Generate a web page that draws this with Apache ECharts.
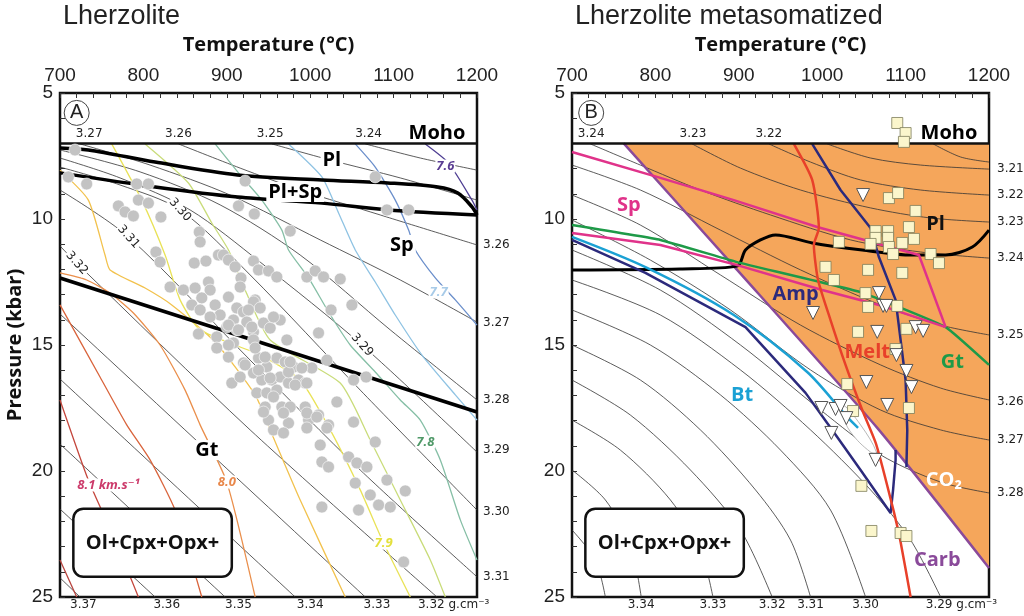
<!DOCTYPE html>
<html>
<head>
<meta charset="utf-8">
<script src="https://cdn.jsdelivr.net/npm/echarts@6/dist/echarts.min.js"></script>
<style>
html, body { margin:0; padding:0; background:#fff; }
#chart { width:1024px; height:616px; }
</style>
</head>
<body>
<div id="chart"></div>
<script>
// ===== panel A : Lherzolite =====
const mohoLine = [[700, 7.0], [1200, 7.0]];

const plOutA = [[700,7.18],[734,7.26],[814,7.74],[913,8.25],[1014,8.45],[1093,8.57],[1153,8.73],[1177,8.97],[1194,9.52],[1200,9.84]];
const spInA  = [[700,8.17],[814,8.73],[913,9.13],[1014,9.37],[1093,9.64],[1200,9.84]];
const gtInA  = [[700,12.34],[1200,17.66]];

// density isolines (g/cm3)
const densA324 = [[1066,7.02],[1132,7.58],[1200,8.06]];
const densA325 = [[954,7.02],[1024,7.66],[1108,8.37],[1200,9.25]];
const densA326 = [[842,7.02],[916,7.98],[988,8.85],[1084,9.84],[1200,11.03]];
const densA327 = [[724,7.02],[808,7.86],[904,9.05],[1012,10.83],[1108,12.42],[1200,14.09]];
const densA328 = [[700,7.26],[796,8.13],[892,9.44],[988,11.43],[1096,14.40],[1200,17.18]];
const densA329 = [[700,7.58],[772,8.37],[856,9.64],[940,11.71],[1062,15.0],[1200,19.25]];
const densA330 = [[700,7.94],[772,8.65],[844,9.64],[928,12.22],[1060,16.79],[1200,21.55]];
const densA331 = [[700,8.85],[782,10.71],[928,15.6],[1060,19.96],[1200,24.2]];
const densA332 = [[700,11.07],[720,11.75],[928,18.37],[1152,25]];
const densA333 = [[700,13.77],[1066,25]];
const densA334 = [[700,16.35],[982,25]];
const densA335 = [[700,18.93],[898,25]];
const densA336 = [[700,21.51],[814,25]];
const densA337 = [[700,24.24],[724,25]];

// Vp isolines (km/s)
const velA0  = [[700,23.53],[720,25]];
const velA1  = [[700,17.18],[734,20.36],[766,22.74],[794,25]];
const velA2  = [[700,13.41],[748,16.27],[780,18.17],[808,19.56],[838,21.55],[870,25]];
const velA3  = [[700,12.14],[732,12.42],[760,12.94],[788,13.73],[820,15.0],[850,16.79],[868,18.17],[900,20.44],[934,25]];
const velA4  = [[700,8.06],[734,9.25],[754,11.43],[760,12.02],[802,12.74],[834,13.41],[886,14.88],[934,16.98],[952,18.37],[988,21.15],[1042,25]];
const velA5  = [[762,7.02],[798,9.25],[826,11.43],[844,13.21],[868,14.40],[940,15.40],[988,16.39],[1024,18.37],[1060,20.75],[1088,22.86],[1120,25]];
const velA6  = [[802,7.02],[854,8.57],[882,10.16],[902,11.23],[922,12.82],[952,14.80],[1036,16.51],[1072,18.77],[1108,21.15],[1144,23.53],[1162,25]];
const velA7  = [[886,7.02],[918,8.33],[942,9.25],[966,10.44],[974,11.23],[998,12.34],[1022,13.69],[1048,15.0],[1078,16.07],[1108,17.18],[1132,17.98],[1156,19.56],[1180,21.94],[1200,23.53]];
const velA8  = [[974,7.02],[1014,8.33],[1034,9.76],[1054,11.23],[1078,12.5],[1102,13.81],[1134,15.40],[1174,16.98],[1200,17.98]];
const velA9  = [[1054,7.02],[1078,7.94],[1102,9.25],[1118,10.44],[1126,11.23],[1150,12.34],[1174,13.21],[1200,14.21]];
const velA10 = [[1138,7.02],[1166,7.78],[1194,9.25],[1200,9.64]];
const velColorsA = ['#b8433d','#c4463c','#d9643c','#ea8f4c','#f2c24e','#e9e257','#c9dc7a','#86bfa6','#8fc3e3','#6b8fcb','#4f3f93'];

const pointsA = [
 [718,7.26],[710,8.33],[732,8.61],[792,8.61],[806,8.61],[922,8.49],[1078,8.33],[1092,9.64],[1118,9.64],
 [770,9.48],[778,9.72],[788,9.88],[794,9.25],[806,9.37],[821,9.92],[914,9.48],[933,9.80],[976,10.48],
 [867,10.52],[868,10.91],[815,11.31],[820,11.71],[861,11.75],[875,11.67],[890,11.43],[896,11.43],[902,11.63],
 [910,11.90],[932,11.67],[938,12.02],[950,12.06],[960,12.30],[996,12.30],[1006,12.06],[1016,12.30],[1036,12.38],
 [832,12.70],[848,12.82],[862,12.74],[878,12.50],[880,12.82],[917,12.34],[916,12.70],[902,13.10],[870,13.13],
 [934,13.21],[858,13.41],[868,13.61],[886,13.41],[892,13.81],[912,13.53],[920,13.69],[932,13.29],[940,13.53],
 [926,13.61],[1025,13.61],[1050,13.41],[866,14.56],[880,13.89],[888,14.68],[900,14.29],[908,14.01],[912,14.40],
 [924,14.09],[932,14.48],[944,14.13],[952,14.33],[964,14.01],[956,13.89],[972,14.80],[932,14.80],[908,14.92],
 [888,15.12],[902,15.48],[920,15.71],[938,15.52],[948,15.87],[960,15.52],[970,15.67],[980,15.87],[1002,15.91],
 [1010,14.52],[1020,15.60],[1052,16.39],[1067,16.27],[906,16.51],[916,16.27],[932,16.11],[942,16.39],[954,16.39],
 [964,16.27],[974,16.51],[986,16.39],[994,16.51],[936,16.90],[948,16.90],[960,16.79],[922,15.79],[938,15.99],
 [952,16.31],[974,16.07],[902,14.21],[914,14.40],[930,14.29],[902,15.00],[934,15.12],[946,15.48],[976,15.67],
 [990,15.91],[982,16.59],[996,16.51],[946,17.46],[966,17.46],[976,17.46],[994,17.46],[1010,17.78],[1032,17.26],
 [1052,18.06],[950,17.98],[974,18.10],[998,17.98],[1022,18.17],[956,17.06],[996,17.70],[944,17.66],[968,17.70],
 [1008,17.86],[956,18.37],[968,18.49],[996,18.29],[1012,18.97],[1020,18.29],[1078,18.85],[1014,19.64],[1022,19.84],
 [1046,19.44],[1056,19.68],[1068,19.84],[1054,20.48],[1092,20.36],[1072,20.95],[1082,21.35],[1096,21.43],
 [1114,20.79],[1014,21.43],[1058,21.55],[1112,23.61]
];

const phaseLabelsA = [[1026,7.66,'Pl'],[982,8.93,'Pl+Sp'],[1110,11.03,'Sp'],[876,19.17,'Gt']];
const velLabelsA = [[1162,7.9,'7.6','#5a3d92'],[1154,12.9,'7.7','#a8cbe8'],[1138,18.85,'7.8','#4f9968'],
                    [1088,22.86,'7.9','#e4e03c'],[900,20.44,'8.0','#e8874a'],[758,20.56,'8.1 km.s⁻¹','#cc3a6a']];
const topDensLabelsA = [[735,6.63,'3.27'],[842,6.63,'3.26'],[952,6.63,'3.25'],[1070,6.63,'3.24']];
const rightDensLabelsA = [[1200,11.03,'3.26'],[1200,14.13,'3.27'],[1200,17.18,'3.28'],[1200,19.17,'3.29'],[1200,21.63,'3.30'],[1200,24.2,'3.31']];
const bottomDensLabelsA = [[728,25,'3.37'],[828,25,'3.36'],[914,25,'3.35'],[1000,25,'3.34'],[1080,25,'3.33'],[1172,25,'3.32 g.cm⁻³']];
const inlineDensLabelsA = [[1062,15.0,'3.29'],[844,9.64,'3.30'],[782,10.71,'3.31'],[720,11.75,'3.32']];

// ===== panel B : Lherzolite metasomatized =====
const co2FieldB = [[762,7.0],[1200,7.0],[1200,23.85],[1066,18.29],[894,11.87]];
const carbB   = [[762,7.0],[894,11.87],[1066,18.29],[1200,23.85]];
const plOutB  = [[700,12.02],[830,11.98],[898,11.87],[908,11.23],[926,10.83],[944,10.63],[988,10.95],[1048,11.23],[1108,11.43],[1148,11.43],[1180,11.11],[1200,10.44]];
const spUpperB = [[700,7.34],[806,8.37],[894,9.25],[994,10.32],[1116,11.43],[1148,14.29]];
const spLowerB = [[700,10.56],[806,11.03],[898,11.83],[1000,12.82],[1068,13.41],[1148,14.29]];
const gtB     = [[700,10.24],[806,10.83],[898,11.71],[1046,12.90],[1148,14.29],[1200,15.79]];
const btB     = [[700,10.71],[790,11.94],[894,13.81],[982,16.07],[1028,17.78],[1043,18.29]];
const ampTopB = [[988,7.02],[1022,8.85],[1058,10.36],[1068,11.51],[1088,13.21],[1094,14.80],[1100,16.39],[1102,18.37],[1101,19.84]];
const ampLeftB = [[700,10.83],[788,12.14],[908,14.29],[980,16.90],[1012,18.37],[1046,19.96],[1082,21.67],[1085,20.75],[1088,19.56],[1088,19.17]];
const meltB   = [[966,7.02],[988,8.45],[996,10.36],[990,11.03],[995,12.42],[1010,14.01],[1028,15.79],[1048,17.58],[1065,18.97],[1086,21.63],[1094,22.82],[1106,25]];
const lensB   = [[1025,17.38],[1046,18.17],[1065,19.25],[1058,19.25],[1034,18.45],[1025,17.78]];

const densB320 = [[1133,7.02],[1166,7.54],[1200,7.74]];
const densB321 = [[1006,7.02],[1058,7.58],[1118,7.86],[1200,8.02]];
const densB322 = [[936,7.02],[986,7.74],[1046,8.45],[1118,8.85],[1200,9.05]];
const densB323 = [[844,7.02],[902,7.98],[974,8.85],[1058,9.56],[1130,9.96],[1200,10.12]];
const densB324 = [[722,7.02],[782,7.86],[854,8.85],[938,9.84],[1034,10.83],[1118,11.31],[1200,11.55]];
const densB325 = [[700,7.86],[782,8.85],[878,10.44],[974,12.02],[1070,13.41],[1142,14.21],[1200,14.60]];
const densB326 = [[700,9.05],[782,10.24],[878,12.22],[974,14.21],[1070,15.79],[1142,16.71],[1200,17.18]];
const densB327 = [[700,10.04],[794,11.63],[890,13.61],[986,15.99],[1070,17.58],[1142,18.37],[1200,18.77]];
const densB328 = [[700,11.23],[806,12.82],[902,15.0],[998,17.58],[1070,19.36],[1142,20.44],[1200,20.87]];
const densB329 = [[700,12.42],[806,13.81],[902,15.99],[986,18.37],[1058,20.75],[1106,22.74],[1142,25]];
const densB330 = [[700,13.61],[794,15.0],[878,16.98],[950,19.17],[1010,21.55],[1052,25]];
const densB331 = [[700,15.0],[782,16.39],[854,18.37],[920,20.75],[962,22.74],[986,25]];
const densB332 = [[700,16.39],[770,17.78],[842,19.96],[902,22.34],[940,25]];
const densB333 = [[700,17.98],[758,19.17],[818,21.15],[854,23.13],[869,25]];
const densB334 = [[700,19.96],[740,21.15],[770,22.94],[783,25]];
const densB335 = [[700,22.34],[728,23.53],[740,25]];

const squaresB = [
 [1090,6.19],[1100,6.59],[1098,6.94],[1080,9.17],[1091,8.97],[1112,9.68],[1104,10.32],[1064,10.48],[1079,10.48],
 [1064,10.75],[1079,10.75],[1020,10.91],[1058,10.99],[1080,11.11],[1096,10.95],[1110,10.79],[1085,11.39],[1130,11.39],
 [1140,11.75],[1004,11.90],[1014,12.42],[1055,12.02],[1096,12.14],[1052,12.94],[1055,13.49],[1090,13.45],[1043,14.48],
 [1101,14.36],[1088,15.16],[1030,16.55],[1037,17.62],[1104,17.50],[1047,20.59],[1059,22.38],[1094,22.46],[1101,22.58]
];
const trianglesB = [
 [1049,9.05],[1068,12.94],[1073,13.45],[1077,13.45],[989,13.73],[1066,14.48],[1112,14.29],[1121,14.44],[1089,15.40],
 [1101,16.03],[1053,16.47],[1107,16.67],[1078,17.38],[999,17.50],[1016,17.54],[1022,17.42],[1029,17.90],[1011,18.49],[1064,19.56]
];

const phaseLabelsB = [[768,9.44,'Sp','#e0338a'],[1136,10.2,'Pl','#111'],[968,13.0,'Amp','#2c2a7c'],[1054,15.28,'Melt','#e8402a'],
                      [1156,15.67,'Gt','#1e9a48'],[904,16.98,'Bt','#1ba1d4'],[1146,20.36,'CO₂','#ffffff'],[1138,23.53,'Carb','#8a4a9a']];
const topDensLabelsB = [[723,6.63,'3.24'],[845,6.63,'3.23'],[936,6.63,'3.22']];
const rightDensLabelsB = [[1200,8.02,'3.21'],[1200,9.05,'3.22'],[1200,10.12,'3.23'],[1200,11.55,'3.24'],[1200,14.60,'3.25'],[1200,17.26,'3.26'],[1200,18.77,'3.27'],[1200,20.87,'3.28']];
const bottomDensLabelsB = [[783,25,'3.34'],[869,25,'3.33'],[940,25,'3.32'],[986,25,'3.31'],[1052,25,'3.30'],[1167,25,'3.29 g.cm⁻³']];

const mohoLabel = [[1152,6.59,'Moho']];
const boxCorners = [[716,21.5],[906,24.2]];
const boxText = 'Ol+Cpx+Opx+';

const chart = echarts.init(document.getElementById('chart'));

const BOLD = '"Open Sans", "DejaVu Sans", sans-serif';
const SMALL = '"DejaVu Sans", sans-serif';

function line(gi, data, color, width, z, smooth) {
	return {
		type: 'line', xAxisIndex: gi, yAxisIndex: gi, data: data, symbol: 'none', silent: true,
		smooth: smooth === undefined ? 0.3 : smooth,
		lineStyle: { color: color, width: width }, z: z
	};
}

function texts(gi, items, label, z) {
	return {
		type: 'scatter', xAxisIndex: gi, yAxisIndex: gi, symbolSize: 0, silent: true, clip: false, z: z || 20,
		itemStyle: { color: 'transparent', opacity: 1 },
		data: items.map((d) => ({ name: d[2], value: [d[0], d[1]], label: d[3] ? { color: d[3] } : undefined })),
		label: Object.assign({ show: true, position: 'inside', formatter: '{b}', opacity: 1 }, label)
	};
}

function badge(gi, pos, letter) {
	return {
		type: 'scatter', xAxisIndex: gi, yAxisIndex: gi, symbol: 'circle', symbolSize: 25, silent: true, clip: false, z: 20,
		itemStyle: { color: '#fff', borderColor: '#444', borderWidth: 1, opacity: 1 },
		data: [{ name: letter, value: pos }],
		label: { show: true, position: 'inside', formatter: '{b}', fontSize: 20, color: '#222', fontFamily: 'Liberation Sans' }
	};
}

function axesX(gi) {
	return {
		gridIndex: gi, type: 'value', position: 'top', min: 700, max: 1200, interval: 100,
		name: 'Temperature (°C)', nameLocation: 'middle', nameGap: 38,
		nameTextStyle: { fontFamily: BOLD, fontWeight: 'bold', fontSize: 20, color: '#111' },
		axisLine: { show: false },
		axisTick: { inside: true, length: 5, lineStyle: { color: '#333' } },
		minorTick: { show: true, splitNumber: 5, length: 5, lineStyle: { color: '#333' } },
		splitLine: { show: false },
		axisLabel: { fontFamily: 'Liberation Sans', fontSize: 19, color: '#222', margin: 8, formatter: (v) => String(v) }
	};
}

function axesY(gi) {
	return {
		gridIndex: gi, type: 'value', inverse: true, min: 5, max: 25, interval: 5,
		name: gi === 0 ? 'Pressure (kbar)' : '', nameLocation: 'middle', nameGap: 35,
		nameTextStyle: { fontFamily: BOLD, fontWeight: 'bold', fontSize: 20, color: '#111' },
		axisLine: { show: false },
		axisTick: { inside: true, length: 5, lineStyle: { color: '#333' } },
		minorTick: { show: true, splitNumber: 5, length: 5, lineStyle: { color: '#333' } },
		splitLine: { show: false },
		axisLabel: { fontFamily: 'Liberation Sans', fontSize: 19, color: '#222', margin: 7, formatter: (v) => String(v) }
	};
}

const series = [];

// ---- panel A ----
[densA324, densA325, densA326, densA327, densA328, densA329, densA330, densA331, densA332, densA333, densA334, densA335, densA336, densA337]
	.forEach((d) => series.push(line(0, d, '#333', 0.8, 2)));
[velA0, velA1, velA2, velA3, velA4, velA5, velA6, velA7, velA8, velA9, velA10]
	.forEach((d, i) => series.push(line(0, d, velColorsA[i], 1.3, 3, 0.2)));
series.push(line(0, plOutA, '#000', 3.5, 4, 0.3));
series.push(line(0, spInA, '#000', 3.5, 4, 0.3));
series.push(line(0, gtInA, '#000', 3.5, 4, 0));
series.push(line(0, mohoLine, '#111', 2.5, 4, 0));
series.push({
	type: 'scatter', xAxisIndex: 0, yAxisIndex: 0, symbolSize: 12, silent: true, z: 6, data: pointsA,
	itemStyle: { color: '#c3c3c3', borderColor: '#fff', borderWidth: 0.6, opacity: 1 }
});
series.push(texts(0, phaseLabelsA, { fontFamily: BOLD, fontWeight: 'bold', fontSize: 20, color: '#000', backgroundColor: '#fff', padding: [0, 2] }));
series.push(texts(0, mohoLabel, { fontFamily: BOLD, fontWeight: 'bold', fontSize: 20, color: '#000' }));
series.push(texts(0, velLabelsA, { fontFamily: BOLD, fontWeight: 'bold', fontStyle: 'italic', fontSize: 13, backgroundColor: '#fff', padding: [0, 1] }));
series.push(texts(0, topDensLabelsA, { fontFamily: SMALL, fontSize: 12, color: '#222' }));
series.push(texts(0, rightDensLabelsA, { fontFamily: SMALL, fontSize: 12, color: '#222', position: 'right', distance: 6 }));
series.push(texts(0, bottomDensLabelsA, { fontFamily: SMALL, fontSize: 12, color: '#222', position: 'bottom', distance: 2 }));
series.push(texts(0, inlineDensLabelsA, { fontFamily: SMALL, fontSize: 12, color: '#222', rotate: -48, backgroundColor: '#fff', padding: [0, 1] }));
series.push(badge(0, [720, 5.79], 'A'));

// ---- panel B ----
series.push({
	type: 'custom', xAxisIndex: 1, yAxisIndex: 1, silent: true, z: 1, data: co2FieldB,
	renderItem: function (params, api) {
		if (params.dataIndex !== 0) return;
		return { type: 'polygon', shape: { points: co2FieldB.map((p) => api.coord(p)) }, style: { fill: '#f5a65b' } };
	}
});
[densB320, densB321, densB322, densB323, densB324, densB325, densB326, densB327, densB328, densB329, densB330, densB331, densB332, densB333, densB334, densB335]
	.forEach((d) => series.push(line(1, d, '#333', 0.8, 2)));
series.push({
	type: 'custom', xAxisIndex: 1, yAxisIndex: 1, silent: true, z: 3, data: lensB,
	renderItem: function (params, api) {
		if (params.dataIndex !== 0) return;
		return { type: 'polygon', shape: { points: lensB.map((p) => api.coord(p)), smooth: 0.4 }, style: { fill: '#fff', stroke: '#999', lineWidth: 0.7 } };
	}
});
series.push(line(1, carbB, '#8a4a9a', 2.5, 4, 0.2));
series.push(line(1, plOutB, '#000', 3, 4, 0.3));
series.push(line(1, gtB, '#1e9a48', 2.5, 4, 0.1));
series.push(line(1, spUpperB, '#e0338a', 2.5, 4, 0));
series.push(line(1, spLowerB, '#e0338a', 2.5, 4, 0));
series.push(line(1, btB, '#1ba1d4', 2.5, 4, 0.3));
series.push(line(1, ampLeftB, '#2c2a7c', 2.5, 4, 0));
series.push(line(1, ampTopB, '#2c2a7c', 2.5, 4, 0));
series.push(line(1, meltB, '#e8402a', 2.5, 4, 0.2));
series.push(line(1, mohoLine, '#111', 2.5, 4, 0));
series.push({
	type: 'scatter', xAxisIndex: 1, yAxisIndex: 1, symbol: 'rect', symbolSize: 11, silent: true, clip: false, z: 6, data: squaresB,
	itemStyle: { color: '#fbf6cc', borderColor: '#7d7d5a', borderWidth: 0.8, opacity: 1 }
});
series.push({
	type: 'scatter', xAxisIndex: 1, yAxisIndex: 1, symbol: 'triangle', symbolRotate: 180, symbolSize: 13, silent: true, z: 6, data: trianglesB,
	itemStyle: { color: '#fff', borderColor: '#555', borderWidth: 1, opacity: 1 }
});
series.push(texts(1, phaseLabelsB, { fontFamily: BOLD, fontWeight: 'bold', fontSize: 20 }));
series.push(texts(1, mohoLabel, { fontFamily: BOLD, fontWeight: 'bold', fontSize: 20, color: '#000' }));
series.push(texts(1, topDensLabelsB, { fontFamily: SMALL, fontSize: 12, color: '#222' }));
series.push(texts(1, rightDensLabelsB, { fontFamily: SMALL, fontSize: 12, color: '#222', position: 'right', distance: 8 }));
series.push(texts(1, bottomDensLabelsB, { fontFamily: SMALL, fontSize: 12, color: '#222', position: 'bottom', distance: 2 }));
series.push(badge(1, [723, 5.79], 'B'));

var option = {
	animation: false,
	backgroundColor: '#fff',
	title: [
		{ text: 'Lherzolite', left: 58, top: -2, textStyle: { fontFamily: 'Liberation Sans', fontWeight: 'normal', fontSize: 27, color: '#222' } },
		{ text: 'Lherzolite metasomatized', left: 570, top: -2, textStyle: { fontFamily: 'Liberation Sans', fontWeight: 'normal', fontSize: 27, color: '#222' } }
	],
	grid: [
		{ left: 60, top: 93, width: 417, height: 504, show: true, borderColor: '#111', borderWidth: 2.5 },
		{ left: 572, top: 93, width: 417, height: 504, show: true, borderColor: '#111', borderWidth: 2.5 }
	],
	xAxis: [axesX(0), axesX(1)],
	yAxis: [axesY(0), axesY(1)],
	series: series
};

chart.setOption(option);

// rock assemblage boxes
function drawBoxes() {
	const g = [];
	[0, 1].forEach((i) => {
		const p1 = chart.convertToPixel({ gridIndex: i }, boxCorners[0]);
		const p2 = chart.convertToPixel({ gridIndex: i }, boxCorners[1]);
		g.push({
			type: 'rect', z: 100, silent: true,
			shape: { x: p1[0], y: p1[1], width: p2[0] - p1[0], height: p2[1] - p1[1], r: 10 },
			style: { fill: '#fff', stroke: '#111', lineWidth: 2.5 }
		});
		g.push({
			type: 'text', z: 101, silent: true, x: (p1[0] + p2[0]) / 2, y: (p1[1] + p2[1]) / 2,
			style: { text: boxText, fill: '#111', font: 'bold 20px "Open Sans"', align: 'center', verticalAlign: 'middle' }
		});
	});
	chart.setOption({ graphic: g });
}
drawBoxes();
</script>
</body>
</html>
